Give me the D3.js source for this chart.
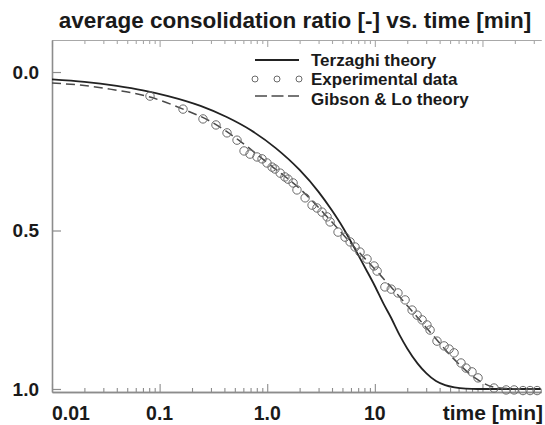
<!DOCTYPE html>
<html>
<head>
<meta charset="utf-8">
<script src="https://cdn.jsdelivr.net/npm/d3@7"></script>
<style>
  html, body { margin: 0; padding: 0; background: #fff; }
  svg { display: block; }
  text { font-family: "Liberation Sans", Arial, Helvetica, sans-serif; font-weight: bold; fill: #1a1a1a; }
</style>
</head>
<body>
<svg id="chart" width="545" height="425"></svg>
<script>
// ---- Data ----
const titleText = "average consolidation ratio [-] vs. time [min]";
const xAxisTitle = "time [min]";
const xMajorTicks = [0.01, 0.1, 1, 10, 100];
const xTickLabels = ["0.01", "0.1", "1.0", "10"];
const xTickLabelValues = [0.01, 0.1, 1, 10];
const yTickValues = [0, 0.5, 1];
const yTickLabels = ["0.0", "0.5", "1.0"];
const legendLabels = ["Terzaghi theory", "Experimental data", "Gibson & Lo theory"];

// Terzaghi theory (solid)
const terzTime = [0.01, 0.02, 0.04, 0.07, 0.12, 0.24, 0.42, 0.7, 1.2, 2, 3, 4, 5, 6, 7, 8.5, 10, 12, 14, 17, 20, 25, 30, 37, 45, 55, 70, 90, 350];
const terzRatio = [0.023, 0.031, 0.044, 0.058, 0.076, 0.107, 0.142, 0.183, 0.240, 0.309, 0.378, 0.437, 0.488, 0.535, 0.577, 0.630, 0.675, 0.730, 0.772, 0.830, 0.872, 0.920, 0.950, 0.975, 0.988, 0.995, 0.999, 1.0, 1.0];

// Gibson & Lo theory (dashed)
const gibTime = [0.01, 0.0182, 0.0346, 0.0814, 0.165, 0.294, 0.559, 1.06, 2.02, 3.84, 6.55, 11.2, 19.1, 32.6, 55.6, 85.3, 131, 223, 350];
const gibRatio = [0.035, 0.041, 0.054, 0.079, 0.117, 0.155, 0.218, 0.293, 0.369, 0.467, 0.555, 0.640, 0.729, 0.820, 0.909, 0.965, 0.995, 1.0, 1.0];

// Experimental data (circles)
const expTime = [0.0814, 0.165, 0.253, 0.334, 0.423, 0.524, 0.609, 0.692, 0.804, 0.895, 0.995, 1.11, 1.18, 1.32, 1.46, 1.56, 1.74, 1.89, 2.25, 2.61, 2.90, 3.23, 3.60, 3.84, 4.55, 5.29, 5.89, 6.55, 7.28, 8.46, 9.84, 10.5, 12.4, 14.2, 16.4, 19.1, 22.2, 24.7, 27.5, 30.5, 32.6, 37.8, 44.0, 49.0, 54.5, 63.2, 70.4, 80.0, 91.0, 128, 166, 197, 238, 277, 322];
const expRatio = [0.076, 0.117, 0.148, 0.167, 0.192, 0.215, 0.249, 0.259, 0.268, 0.274, 0.287, 0.300, 0.306, 0.319, 0.331, 0.338, 0.350, 0.372, 0.397, 0.420, 0.429, 0.442, 0.457, 0.473, 0.505, 0.521, 0.536, 0.552, 0.568, 0.590, 0.612, 0.628, 0.678, 0.685, 0.697, 0.719, 0.751, 0.767, 0.782, 0.798, 0.814, 0.849, 0.864, 0.874, 0.886, 0.918, 0.934, 0.946, 0.965, 0.997, 1.003, 1.003, 1.005, 1.005, 1.005];

// ---- Chart ----
const svg = d3.select("#chart");
const x = d3.scaleLog().domain([0.01, 350]).range([52, 541]);
const y = d3.scaleLinear().domain([-0.101, 1.0095]).range([40, 392]);

const axisColor = "#8c8c8c";

// Title
svg.append("text")
  .attr("x", 295).attr("y", 28)
  .attr("text-anchor", "middle")
  .style("font-size", "22.5px")
  .text(titleText);

// Minor / major ticks
const allTicks = x.ticks();
const isMajor = v => Math.abs(Math.log10(v) - Math.round(Math.log10(v))) < 1e-6;
const minorTicks = allTicks.filter(v => !isMajor(v));

function styleAxis(g, color, width) {
  g.selectAll("path.domain").attr("stroke", color).attr("stroke-width", width);
  g.selectAll(".tick line").attr("stroke", color).attr("stroke-width", 1.1);
  g.selectAll(".tick text").remove();
}

// bottom axis
const bottomMinor = svg.append("g").attr("transform", `translate(0,${y.range()[1]})`)
  .call(d3.axisBottom(x).tickValues(minorTicks).tickSize(-4).tickSizeOuter(0).tickFormat(""));
styleAxis(bottomMinor, axisColor, 1.5);
const bottomMajor = svg.append("g").attr("transform", `translate(0,${y.range()[1]})`)
  .call(d3.axisBottom(x).tickValues(xMajorTicks).tickSize(-8).tickSizeOuter(0).tickFormat(""));
styleAxis(bottomMajor, axisColor, 1.5);

// top axis (frame)
const topMinor = svg.append("g").attr("transform", `translate(0,${y.range()[0]})`)
  .call(d3.axisTop(x).tickValues(minorTicks).tickSize(-4).tickSizeOuter(0).tickFormat(""));
styleAxis(topMinor, "#a8a8a8", 1.2);
const topMajor = svg.append("g").attr("transform", `translate(0,${y.range()[0]})`)
  .call(d3.axisTop(x).tickValues(xMajorTicks).tickSize(-7).tickSizeOuter(0).tickFormat(""));
styleAxis(topMajor, "#a8a8a8", 1.2);

// left axis
const leftAxis = svg.append("g").attr("transform", `translate(${x.range()[0]},0)`)
  .call(d3.axisLeft(y).tickValues(yTickValues).tickSize(-9).tickSizeOuter(0)
    .tickPadding(13).tickFormat((d, i) => yTickLabels[i]));
leftAxis.selectAll("path.domain").attr("stroke", axisColor).attr("stroke-width", 1.6);
leftAxis.selectAll(".tick line").attr("stroke", axisColor).attr("stroke-width", 1.2);
leftAxis.selectAll(".tick text")
  .attr("dy", "0.33em")
  .style("font-size", "19px")
  .style("font-family", "'Liberation Sans', Arial, sans-serif")
  .style("font-weight", "bold")
  .attr("fill", "#1a1a1a");

// x tick labels
svg.append("g").selectAll("text").data(xTickLabelValues).join("text")
  .attr("x", (d, i) => x(d) + (i === 0 ? 19 : 0))
  .attr("y", 420)
  .attr("text-anchor", "middle")
  .style("font-size", "19.5px")
  .text((d, i) => xTickLabels[i]);

svg.append("text")
  .attr("x", 543).attr("y", 420)
  .attr("text-anchor", "end")
  .style("font-size", "21px")
  .text(xAxisTitle);

// lines
const line = d3.line().x(d => x(d[0])).y(d => y(d[1])).curve(d3.curveMonotoneX);

svg.append("path")
  .datum(terzTime.map((t, i) => [t, terzRatio[i]]))
  .attr("d", line)
  .attr("fill", "none").attr("stroke", "#222").attr("stroke-width", 1.8);

svg.append("path")
  .datum(gibTime.map((t, i) => [t, gibRatio[i]]))
  .attr("d", line)
  .attr("fill", "none").attr("stroke", "#4a4a4a").attr("stroke-width", 1.5)
  .attr("stroke-dasharray", "9,5");

svg.append("g").selectAll("circle")
  .data(expTime.map((t, i) => [t, expRatio[i]]))
  .join("circle")
  .attr("cx", d => x(d[0])).attr("cy", d => y(d[1]))
  .attr("r", 4.2)
  .attr("fill", "none").attr("stroke", "#6a6a6a").attr("stroke-width", 1);

// legend
const lg = svg.append("g");
const lx0 = 255, lx1 = 299, ltx = 311;
const rowY = [60, 79, 98];
lg.append("line").attr("x1", lx0).attr("x2", lx1).attr("y1", rowY[0]).attr("y2", rowY[0])
  .attr("stroke", "#222").attr("stroke-width", 1.8);
lg.selectAll("circle").data([0, 0.5, 1]).join("circle")
  .attr("cx", d => lx0 + d * (lx1 - lx0)).attr("cy", rowY[1]).attr("r", 3)
  .attr("fill", "none").attr("stroke", "#6a6a6a").attr("stroke-width", 1);
lg.append("line").attr("x1", lx0).attr("x2", lx1).attr("y1", rowY[2] - 2).attr("y2", rowY[2] - 2)
  .attr("stroke", "#4a4a4a").attr("stroke-width", 1.5).attr("stroke-dasharray", "12,4.5");
lg.selectAll("text").data(legendLabels).join("text")
  .attr("x", ltx).attr("y", (d, i) => rowY[i] + 5.5 + i * 0.8)
  .style("font-size", "17px")
  .text(d => d);
</script>
</body>
</html>
